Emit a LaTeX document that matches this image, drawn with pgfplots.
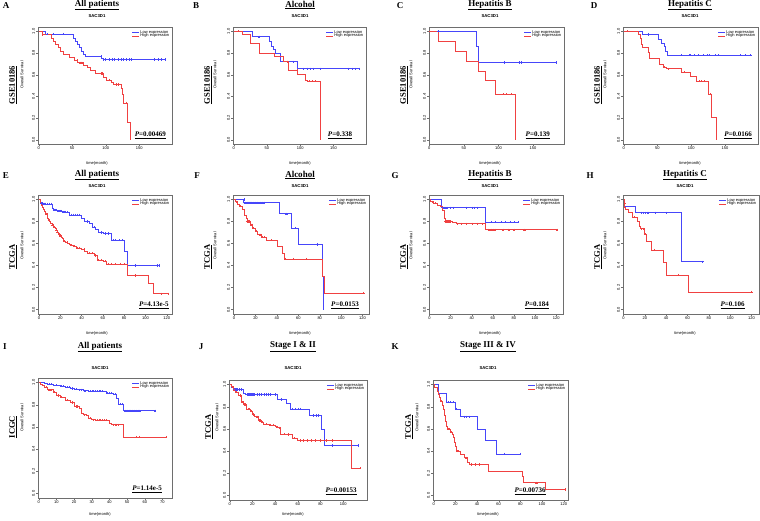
\documentclass[border=0pt]{standalone}
\usepackage{fontspec}
\setmainfont{Liberation Serif}
\setsansfont{Liberation Sans}
\usepackage{pgfplots}
\pgfplotsset{compat=1.18}
\definecolor{kmblue}{RGB}{70,70,250}
\definecolor{kmred}{RGB}{240,65,65}
\definecolor{axgray}{RGB}{110,110,110}
\newcommand{\tl}{\fontsize{4}{4.6}\selectfont\sffamily}
\newcommand{\ttl}{\fontsize{9}{10}\selectfont\bfseries}
\newcommand{\lbl}{\fontsize{8.5}{10}\selectfont\bfseries}
\newcommand{\sac}{\fontsize{4.3}{5}\selectfont\sffamily\bfseries}
\newcommand{\pv}{\fontsize{7}{8}\selectfont\bfseries}
\newcommand{\pval}[2][0.96]{\node[anchor=south east,font=\pv,inner sep=0.5pt] at (rel axis cs:#1,0.04) {\underline{\textit{P}=#2}};}
% #1 letter #2 letter x #3 title #4 center x #5 dataset #6 label x #7 OS x
\newcommand{\deco}[7]{%
 \node[font=\ttl] at (#2pt,\yletter pt) {#1};
 \node[font=\ttl] at (#4pt,\ytitle pt) {\underline{#3}};
 \node[font=\sac] at (#4pt,\ysac pt) {SAC3D1};
 \node[font=\tl] at (#4pt,\ytime pt) {time(month)};
 \node[font=\lbl,rotate=90] at (#6pt,\ylab pt) {\underline{#5}};
 \node[font=\tl,rotate=90] at (#7pt,\yos pt) {Overall Survival};}
\pgfplotsset{
 km/.style={scale only axis, ymin=-0.04, ymax=1.04,
  ytick={0,0.2,0.4,0.6,0.8,1}, yticklabels={0.0,0.2,0.4,0.6,0.8,1.0},
  axis line style={axgray, line width=0.4pt},
  tick style={axgray, line width=0.3pt}, tick align=outside, major tick length=1.8pt,
  xtick pos=left, ytick pos=left,
  /pgf/number format/assume math mode=true,
  ticklabel style={font=\tl, inner sep=1pt},
  yticklabel style={rotate=90, anchor=south},
  legend style={draw=none, fill=none, at={(0.99,0.985)}, anchor=north east, font=\tl, row sep=-2.2pt, inner sep=0.5pt, nodes={inner sep=0.8pt}},
  legend cell align=left,
  legend image code/.code={\draw[#1] (0pt,0pt) -- (7pt,0pt);},
 },
 bl/.style={color=kmblue, line width=0.6pt, const plot, forget plot},
 rd/.style={color=kmred, line width=0.6pt, const plot, forget plot},
 bm/.style={color=kmblue, only marks, mark=+, mark size=1.1pt, mark options={line width=0.4pt}, forget plot},
 rm/.style={color=kmred, only marks, mark=+, mark size=1.1pt, mark options={line width=0.4pt}, forget plot},
}
\newcommand{\leg}{\addlegendimage{color=kmblue,line width=0.6pt}\addlegendentry{Low expression}\addlegendimage{color=kmred,line width=0.6pt}\addlegendentry{High expression}}
\begin{document}
\begin{tikzpicture}
\path[use as bounding box] (0pt,0pt) rectangle (760pt,521pt);
% ================= ROW 1 =================
\def\yletter{515}\def\ytitle{516}\def\ysac{505}\def\ytime{358}\def\ylab{436}\def\yos{446}
% A
\begin{axis}[km, at={(38pt,377pt)}, anchor=south west, width=134pt, height=117pt, xmin=-1, xmax=199, xtick={0,50,100,150}]
\leg
\addplot[bm] coordinates {(13,0.975)(21,0.975)(37,0.975)(93,0.77)(97,0.74)(99,0.74)(105,0.74)(110,0.74)(113,0.74)(118,0.74)(123,0.74)(126,0.74)(130,0.74)(135,0.74)(138,0.74)(172,0.74)(178,0.74)(183,0.74)(189,0.74)};
\addplot[rm] coordinates {(6,0.97)(57,0.73)(62,0.71)(64,0.71)(94,0.61)(95,0.61)(106,0.55)(115,0.51)(118,0.51)(130,0.34)};
\addplot[bl] coordinates {(0,1)(10,0.975)(52,0.94)(55,0.91)(57,0.88)(60,0.85)(64,0.82)(67,0.79)(70,0.77)(94,0.75)(97,0.74)(190,0.74)};
\addplot[rd] coordinates {(0,1)(5,0.97)(19,0.94)(22,0.91)(25,0.88)(29,0.85)(33,0.82)(37,0.79)(45,0.76)(53,0.73)(58,0.71)(66,0.69)(72,0.67)(77,0.64)(84,0.61)(97,0.58)(101,0.55)(108,0.53)(111,0.51)(124,0.47)(125,0.42)(127,0.34)(132,0.16)(137,0.0)};
\pval{0.00469}
\end{axis}
\deco{A}{6}{All patients}{97}{GSE10186}{13}{22}
% B
\begin{axis}[km, at={(233pt,377pt)}, anchor=south west, width=133pt, height=117pt, xmin=-1, xmax=199, xtick={0,50,100,150}]
\leg
\addplot[bm] coordinates {(38,0.95)(80,0.72)(90,0.72)(105,0.655)(110,0.655)(115,0.655)(120,0.655)(130,0.655)(172,0.655)(178,0.655)(183,0.655)(189,0.655)};
\addplot[rm] coordinates {(7,1)(80,0.72)(95,0.64)(113,0.54)(118,0.54)(122,0.54)};
\addplot[bl] coordinates {(0,1)(28,0.95)(53,0.91)(56,0.86)(60,0.83)(62,0.80)(70,0.72)(95,0.655)(190,0.655)};
\addplot[rd] coordinates {(0,1)(13,0.97)(25,0.885)(38,0.80)(61,0.77)(75,0.72)(82,0.64)(95,0.60)(108,0.55)(111,0.54)(131,0.0)};
\pval[0.9]{0.338}
\end{axis}
\deco{B}{196}{Alcohol}{300}{GSE10186}{208}{215}
% C
\begin{axis}[km, at={(429pt,377pt)}, anchor=south west, width=135pt, height=117pt, xmin=-0.5, xmax=195, xtick={0,50,100,150}]
\leg
\addplot[bm] coordinates {(13,1)(108,0.713)(130,0.713)(133,0.713)(183,0.713)};
\addplot[rm] coordinates {(107,0.42)(112,0.42)(118,0.42)};
\addplot[bl] coordinates {(0,1)(68,0.86)(71,0.713)(183,0.713)};
\addplot[rd] coordinates {(0,1)(13,0.909)(38,0.817)(54,0.726)(71,0.634)(81,0.545)(95,0.42)(124,0.0)};
\pval[0.9]{0.139}
\end{axis}
\deco{C}{400}{Hepatitis B}{490}{GSE10186}{404}{411}
% D
\begin{axis}[km, at={(623pt,377pt)}, anchor=south west, width=135pt, height=117pt, xmin=-1, xmax=199, xtick={0,50,100,150}]
\leg
\addplot[bm] coordinates {(37,0.97)(85,0.78)(97,0.78)(98,0.78)(105,0.78)(110,0.78)(118,0.78)(123,0.78)(127,0.78)(135,0.78)(140,0.78)(172,0.78)(180,0.78)(188,0.78)};
\addplot[rm] coordinates {(5,1)(37,0.81)(60,0.67)(66,0.655)(90,0.625)(112,0.54)(115,0.54)(120,0.54)(128,0.42)};
\addplot[bl] coordinates {(0,1)(28,0.97)(52,0.93)(55,0.89)(60,0.86)(62,0.82)(65,0.78)(190,0.78)};
\addplot[rd] coordinates {(0,1)(22,0.97)(24,0.94)(26,0.88)(28,0.85)(36,0.81)(38,0.75)(53,0.70)(58,0.67)(63,0.655)(85,0.625)(98,0.585)(108,0.54)(125,0.42)(130,0.21)(137,0.0)};
\pval{0.0166}
\end{axis}
\deco{D}{594}{Hepatitis C}{690}{GSE10186}{598}{605}
% ================= ROW 2 =================
\def\yletter{345}\def\ytitle{346}\def\ysac{335}\def\ytime{188}\def\ylab{264}\def\yos{275}
% E
\begin{axis}[km, at={(38pt,207pt)}, anchor=south west, width=134pt, height=119pt, xmin=-1, xmax=125, xtick={0,20,...,120}]
\leg
\addplot[bm] coordinates {(2,0.97)(4,0.96)(5,0.96)(6,0.96)(8,0.96)(10,0.96)(11,0.96)(14,0.905)(15,0.905)(16,0.905)(18,0.895)(19,0.895)(20,0.895)(21,0.895)(23,0.885)(24,0.885)(25,0.885)(26,0.885)(30,0.86)(32,0.86)(34,0.86)(36,0.86)(38,0.86)(45,0.80)(52,0.75)(58,0.70)(62,0.69)(65,0.69)(70,0.63)(72,0.63)(75,0.63)(78,0.63)(90,0.40)(111,0.40)(113,0.40)};
\addplot[rm] coordinates {(7,0.87)(9,0.815)(12,0.77)(14,0.75)(16,0.72)(17,0.705)(19,0.68)(20,0.67)(24,0.62)(26,0.61)(30,0.585)(33,0.575)(36,0.56)(38,0.56)(42,0.545)(47,0.515)(50,0.51)(53,0.49)(56,0.45)(58,0.45)(62,0.44)(65,0.415)(68,0.415)(72,0.415)(76,0.415)(80,0.415)(90,0.31)(115,0.145)(121,0.145)};
\addplot[bl] coordinates {(0,1)(1,0.97)(3,0.96)(12,0.915)(13,0.905)(17,0.895)(22,0.885)(28,0.86)(40,0.825)(43,0.80)(47,0.78)(50,0.75)(53,0.73)(56,0.70)(60,0.69)(68,0.63)(80,0.53)(83,0.40)(113,0.40)};
\addplot[rd] coordinates {(0,1)(1,0.97)(2,0.95)(3,0.93)(4,0.91)(5,0.89)(6,0.87)(8,0.83)(9,0.815)(10,0.80)(11,0.785)(12,0.77)(13,0.76)(14,0.75)(15,0.735)(16,0.72)(17,0.705)(18,0.69)(19,0.68)(20,0.67)(21,0.66)(22,0.645)(23,0.63)(24,0.62)(25,0.61)(27,0.60)(28,0.59)(30,0.585)(32,0.575)(35,0.56)(40,0.545)(43,0.53)(45,0.515)(48,0.51)(52,0.49)(55,0.45)(60,0.44)(63,0.415)(83,0.31)(103,0.235)(107,0.145)(121,0.145)};
\pval[0.98]{4.13e-5}
\end{axis}
\deco{E}{6}{All patients}{97}{TCGA}{13}{22}
% F
\begin{axis}[km, at={(233pt,207pt)}, anchor=south west, width=136pt, height=119pt, xmin=-1, xmax=126, xtick={0,20,...,120}]
\leg
\addplot[bm] coordinates {(9,1)(10,0.97)(12,0.97)(13,0.97)(14,0.97)(15,0.97)(16,0.97)(18,0.97)(20,0.97)(22,0.97)(24,0.97)(26,0.97)(28,0.97)(49,0.87)(57,0.74)(78,0.59)};
\addplot[rm] coordinates {(2,0.98)(6,0.94)(12,0.80)(13,0.80)(14,0.80)(16,0.77)(17,0.77)(18,0.74)(21,0.71)(23,0.68)(24,0.68)(26,0.66)(28,0.66)(35,0.63)(48,0.46)(55,0.46)(67,0.46)(121,0.15)};
\addplot[bl] coordinates {(0,1)(9,0.97)(42,0.87)(53,0.74)(60,0.59)(82,0.30)(83,0.0)};
\addplot[rd] coordinates {(0,1)(1,0.98)(3,0.96)(5,0.94)(8,0.91)(10,0.86)(11,0.83)(12,0.80)(15,0.77)(17,0.74)(20,0.71)(22,0.68)(25,0.66)(30,0.63)(40,0.57)(45,0.515)(47,0.46)(82,0.30)(84,0.15)(121,0.15)};
\pval[0.93]{0.0153}
\end{axis}
\deco{F}{197}{Alcohol}{300}{TCGA}{208}{215}
% G
\begin{axis}[km, at={(429pt,207pt)}, anchor=south west, width=134pt, height=119pt, xmin=-0.5, xmax=126.5, xtick={0,20,...,120}]
\leg
\addplot[bm] coordinates {(13,0.925)(14,0.925)(15,0.925)(16,0.925)(17,0.925)(20,0.925)(22,0.925)(35,0.925)(40,0.925)(42,0.925)(45,0.925)(58,0.795)(62,0.795)(68,0.795)(72,0.795)(76,0.795)(80,0.795)(84,0.795)};
\addplot[rm] coordinates {(3,0.98)(5,0.965)(15,0.80)(16,0.80)(17,0.80)(18,0.80)(19,0.80)(20,0.80)(26,0.78)(30,0.78)(35,0.78)(40,0.78)(45,0.78)(50,0.78)(56,0.725)(58,0.725)(60,0.725)(62,0.725)(70,0.725)(75,0.725)(80,0.725)(90,0.725)(121,0.725)};
\addplot[bl] coordinates {(0,1)(11,0.925)(53,0.795)(84,0.795)};
\addplot[rd] coordinates {(0,1)(1,0.98)(4,0.965)(7,0.95)(10,0.94)(12,0.905)(14,0.825)(15,0.80)(22,0.79)(25,0.78)(53,0.725)(121,0.725)};
\pval[0.9]{0.184}
\end{axis}
\deco{G}{395}{Hepatitis B}{490}{TCGA}{404}{411}
% H
\begin{axis}[km, at={(623pt,207pt)}, anchor=south west, width=136pt, height=119pt, xmin=-0.5, xmax=127, xtick={0,20,...,120}]
\leg
\addplot[bm] coordinates {(17,0.88)(18,0.88)(20,0.88)(22,0.88)(23,0.88)(30,0.88)(40,0.88)(74,0.435)};
\addplot[rm] coordinates {(1,0.97)(10,0.84)(17,0.735)(18,0.735)(20,0.685)(29,0.54)(51,0.315)(120,0.16)};
\addplot[bl] coordinates {(0,1)(1,0.94)(11,0.88)(54,0.435)(74,0.435)};
\addplot[rd] coordinates {(0,1)(0.5,0.97)(1,0.93)(2,0.91)(4,0.88)(8,0.84)(13,0.80)(15,0.755)(16,0.735)(19,0.685)(21,0.62)(26,0.54)(37,0.43)(40,0.315)(61,0.16)(120,0.16)};
\pval[0.9]{0.106}
\end{axis}
\deco{H}{590}{Hepatitis C}{685}{TCGA}{598}{605}
% ================= ROW 3 =================
\def\yletter{174}\def\ytitle{174}\def\ysac{153}\def\ytime{7}\def\ylab{94}\def\yos{103}
% I
\begin{axis}[km, at={(38pt,23pt)}, anchor=south west, width=134pt, height=120pt, xmin=-0.4, xmax=75.4, xtick={0,10,...,70}]
\leg
\addplot[bm] coordinates {(6,0.985)(7,0.985)(10,0.975)(13,0.965)(14,0.965)(16,0.958)(17,0.958)(19,0.946)(21,0.94)(23,0.935)(24,0.935)(26,0.925)(29,0.92)(30,0.92)(31,0.92)(32,0.92)(33,0.92)(34,0.92)(35,0.92)(36,0.92)(39,0.905)(40,0.905)(41,0.905)(43,0.895)(46,0.805)(47,0.805)(49,0.745)(50,0.745)(51,0.745)(52,0.745)(53,0.745)(54,0.745)(55,0.745)(56,0.745)(57,0.745)(66,0.745)};
\addplot[rm] coordinates {(4,0.96)(6,0.934)(7,0.934)(9,0.915)(11,0.883)(13,0.87)(16,0.843)(19,0.82)(21,0.783)(22,0.783)(26,0.71)(29,0.678)(31,0.665)(33,0.66)(34,0.66)(35,0.66)(36,0.66)(37,0.66)(38,0.66)(42,0.62)(43,0.62)(44,0.62)(45,0.62)(55,0.51)(57,0.51)(72,0.51)};
\addplot[bl] coordinates {(0,1)(3,0.995)(5,0.985)(8,0.975)(12,0.965)(15,0.958)(18,0.946)(20,0.94)(22,0.935)(25,0.925)(28,0.92)(38,0.905)(42,0.895)(44,0.86)(45,0.805)(48,0.745)(66,0.745)};
\addplot[rd] coordinates {(0,1)(1,0.98)(2,0.97)(3,0.96)(5,0.934)(8,0.915)(10,0.883)(12,0.87)(15,0.843)(18,0.82)(20,0.783)(23,0.77)(24,0.723)(25,0.71)(27,0.70)(28,0.678)(30,0.665)(32,0.66)(40,0.633)(41,0.62)(48,0.51)(72,0.51)};
\pval[0.93]{1.14e-5}
\end{axis}
\deco{I}{5}{All patients}{100}{ICGC}{13}{22}
% J
\begin{axis}[km, at={(229pt,21pt)}, anchor=south west, width=138pt, height=120pt, xmin=-0.6, xmax=121, xtick={0,20,...,100}]
\leg
\addplot[bm] coordinates {(4,0.955)(5,0.955)(6,0.955)(7,0.955)(8,0.955)(10,0.955)(15,0.91)(16,0.91)(17,0.91)(18,0.91)(19,0.91)(20,0.91)(21,0.91)(22,0.91)(24,0.91)(26,0.91)(28,0.91)(30,0.91)(32,0.91)(34,0.91)(36,0.91)(40,0.91)(45,0.865)(55,0.78)(58,0.78)(60,0.78)(62,0.78)(74,0.72)(76,0.72)(78,0.72)(90,0.45)(113,0.45)};
\addplot[rm] coordinates {(2,0.98)(4,0.95)(6,0.93)(9,0.90)(11,0.84)(12,0.84)(13,0.82)(14,0.82)(16,0.78)(17,0.78)(19,0.76)(21,0.73)(23,0.71)(24,0.71)(26,0.675)(27,0.675)(29,0.66)(32,0.645)(36,0.635)(38,0.635)(41,0.62)(44,0.61)(48,0.555)(52,0.55)(57,0.515)(62,0.495)(65,0.495)(68,0.495)(72,0.495)(75,0.495)(80,0.495)(85,0.495)(90,0.495)(115,0.245)};
\addplot[bl] coordinates {(0,1)(1,0.975)(3,0.955)(12,0.92)(14,0.91)(42,0.865)(50,0.83)(53,0.78)(70,0.72)(81,0.60)(83,0.45)(113,0.45)};
\addplot[rd] coordinates {(0,1)(1,0.98)(3,0.95)(5,0.93)(8,0.90)(10,0.84)(12,0.82)(15,0.78)(18,0.76)(20,0.73)(22,0.71)(25,0.675)(28,0.66)(30,0.645)(35,0.635)(40,0.62)(42,0.61)(45,0.555)(50,0.55)(55,0.515)(60,0.495)(107,0.245)(115,0.245)};
\pval[0.93]{0.00153}
\end{axis}
\deco{J}{201}{Stage I \& II}{293}{TCGA}{209}{217}
% K
\begin{axis}[km, at={(433pt,21pt)}, anchor=south west, width=135pt, height=120pt, xmin=-0.6, xmax=124, xtick={0,20,...,120}]
\leg
\addplot[bm] coordinates {(13,0.84)(15,0.84)(18,0.84)(21,0.78)(28,0.71)(30,0.71)(33,0.71)(65,0.375)(80,0.375)};
\addplot[rm] coordinates {(7,0.85)(13,0.60)(14,0.60)(16,0.57)(22,0.40)(23,0.40)(30,0.34)(35,0.28)(38,0.28)(42,0.28)(95,0.115)(121,0.055)};
\addplot[bl] coordinates {(0,1)(4,0.92)(12,0.84)(20,0.78)(25,0.71)(40,0.60)(48,0.50)(58,0.375)(80,0.375)};
\addplot[rd] coordinates {(0,1)(1,0.97)(3,0.94)(4,0.91)(5,0.88)(6,0.85)(8,0.81)(9,0.78)(10,0.72)(11,0.67)(12,0.62)(13,0.60)(15,0.57)(17,0.55)(18,0.52)(19,0.48)(20,0.44)(21,0.40)(25,0.37)(28,0.34)(31,0.30)(33,0.28)(50,0.22)(82,0.175)(83,0.115)(103,0.055)(121,0.055)};
\pval[0.84]{0.00736}
\end{axis}
\deco{K}{395}{Stage III \& IV}{488}{TCGA}{409}{417}
\end{tikzpicture}
\end{document}
